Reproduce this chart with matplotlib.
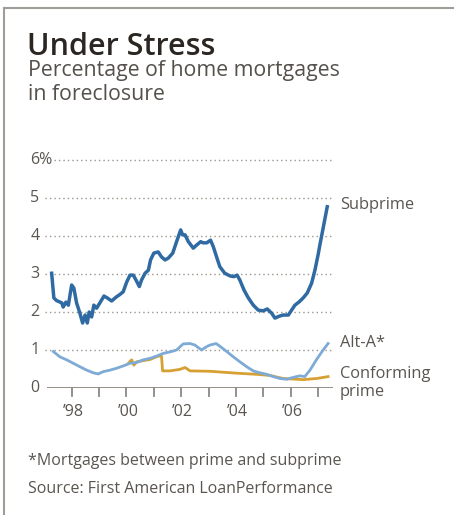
import numpy as np
import matplotlib.pyplot as plt
from matplotlib.lines import Line2D

plt.rcParams['font.family'] = ['Open Sans', 'DejaVu Sans']

# Foreclosure rates (x = fractional year, y = percent)
subprime_t = [1997.27, 1997.35, 1997.45, 1997.64, 1997.69, 1997.79, 1997.88, 1998.00, 1998.08,
              1998.18, 1998.30, 1998.40, 1998.49, 1998.57, 1998.64, 1998.73, 1998.81, 1998.91,
              1999.03, 1999.18, 1999.30, 1999.46, 1999.62, 1999.74, 1999.88, 2000.01, 2000.13,
              2000.25, 2000.35, 2000.47, 2000.55, 2000.68, 2000.80, 2000.88, 2001.00, 2001.16,
              2001.28, 2001.41, 2001.53, 2001.69, 2001.83, 2001.98, 2002.05, 2002.14, 2002.26,
              2002.44, 2002.56, 2002.71, 2002.80, 2002.93, 2003.07, 2003.17, 2003.29, 2003.41,
              2003.59, 2003.78, 2003.92, 2004.04, 2004.14, 2004.29, 2004.45, 2004.63, 2004.81,
              2004.99, 2005.14, 2005.30, 2005.42, 2005.58, 2005.72, 2005.91, 2006.03, 2006.15,
              2006.31, 2006.45, 2006.60, 2006.76, 2006.88, 2007.00, 2007.06, 2007.33]
subprime = [3.02, 2.37, 2.30, 2.24, 2.13, 2.26, 2.18, 2.71, 2.63,
            2.24, 1.97, 1.71, 1.92, 1.71, 2.00, 1.87, 2.18, 2.10,
            2.24, 2.42, 2.37, 2.29, 2.39, 2.45, 2.53, 2.79, 2.97,
            2.97, 2.84, 2.67, 2.84, 3.02, 3.10, 3.37, 3.55, 3.58,
            3.45, 3.37, 3.42, 3.55, 3.85, 4.16, 4.03, 4.03, 3.85,
            3.68, 3.76, 3.85, 3.82, 3.82, 3.89, 3.72, 3.45, 3.19,
            3.02, 2.95, 2.93, 2.97, 2.84, 2.58, 2.37, 2.18, 2.05,
            2.03, 2.08, 1.97, 1.84, 1.89, 1.92, 1.92, 2.05, 2.18,
            2.27, 2.37, 2.50, 2.76, 3.10, 3.52, 3.76, 4.77]

alt_a_t = [1997.33, 1997.57, 1997.82, 1998.06, 1998.30, 1998.55, 1998.79, 1998.97, 1999.15,
           1999.40, 1999.64, 1999.88, 2000.13, 2000.37, 2000.61, 2000.86, 2001.10, 2001.34,
           2001.59, 2001.83, 2002.07, 2002.32, 2002.50, 2002.74, 2002.93, 2003.05, 2003.27,
           2003.41, 2003.66, 2003.90, 2004.14, 2004.39, 2004.63, 2004.87, 2005.12, 2005.36,
           2005.60, 2005.85, 2006.09, 2006.33, 2006.51, 2006.70, 2006.94, 2007.18, 2007.36]
alt_a = [0.96, 0.82, 0.74, 0.65, 0.56, 0.47, 0.40, 0.37, 0.43,
         0.47, 0.52, 0.58, 0.65, 0.67, 0.74, 0.78, 0.84, 0.91,
         0.95, 1.00, 1.16, 1.17, 1.13, 1.00, 1.09, 1.13, 1.17,
         1.10, 0.96, 0.82, 0.69, 0.56, 0.45, 0.40, 0.36, 0.30,
         0.25, 0.23, 0.28, 0.32, 0.30, 0.47, 0.75, 1.00, 1.17]

prime_t = [2000.07, 2000.13, 2000.19, 2000.27, 2000.37, 2000.61, 2000.86, 2001.16, 2001.28,
           2001.32, 2001.59, 2001.95, 2002.14, 2002.32, 2003.05, 2004.02, 2004.75, 2005.24,
           2005.72, 2006.45, 2006.94, 2007.36]
prime = [0.65, 0.70, 0.74, 0.60, 0.69, 0.72, 0.75, 0.84, 0.84,
         0.45, 0.45, 0.49, 0.54, 0.45, 0.44, 0.39, 0.36, 0.33,
         0.25, 0.22, 0.25, 0.30]

year_ticks = [1998, 1999, 2000, 2001, 2002, 2003, 2004, 2005, 2006, 2007]
year_labels = {1998: "\u201998", 2000: "\u201900", 2002: "\u201902", 2004: "\u201904", 2006: "\u201906"}
y_ticks = [0, 1, 2, 3, 4, 5, 6]
y_labels = ["0", "1", "2", "3", "4", "5", "6%"]

W, H = 454, 515
fig = plt.figure(figsize=(W / 100, H / 100), dpi=100)

def px(x, y):
    # pixel position -> figure fraction
    return x / W, 1 - y / H

# plot area, placed by pixels
ax = fig.add_axes([47 / W, 1 - 388 / H, (333 - 47) / W, (388 - 160) / H])
ax.set_xlim(1997.1, 2007.54)
ax.set_ylim(0, 6)
for s in ax.spines.values():
    s.set_visible(False)
ax.set_xticks([])
ax.set_yticks([])

grid_col = '#9a958c'
for v in y_ticks[1:]:
    x0 = 0.025 if v == 6 else -0.008
    ax.plot([x0, 0.997], [v, v], transform=ax.get_yaxis_transform(), color=grid_col,
            lw=1.0, ls=(0, (1, 2.2)), clip_on=False, zorder=1)
ax.axhline(0, color='#8c8780', lw=1.3, zorder=1)
for t in year_ticks:
    ax.plot([t, t], [0, -0.22], color='#8c8780', lw=1.3, clip_on=False)

txt_col = '#5a5550'
for v, lab in zip(y_ticks, y_labels):
    ax.text(-0.058, v, lab, transform=ax.get_yaxis_transform(), ha='left', va='center',
            fontsize=11.5, color=txt_col)
for t, lab in year_labels.items():
    ax.text(t + 0.05, -0.62, lab, ha='center', va='center', fontsize=11.5, color=txt_col)

# the three series
ax.plot(prime_t, prime, color='#d6a033', lw=2.0, zorder=3)
ax.plot(alt_a_t, alt_a, color='#7eaad6', lw=2.0, zorder=4)
ax.plot(subprime_t, subprime, color='#2f6aa3', lw=2.5, zorder=5)

# labels at the line ends
ax.text(340 / W, 1 - 205 / H, "Subprime", transform=fig.transFigure, va='center', fontsize=11.8, color=txt_col)
ax.text(340 / W, 1 - 343 / H, "Alt-A*", transform=fig.transFigure, va='center', fontsize=11.8, color=txt_col)
ax.text(340 / W, 1 - 374 / H, "Conforming", transform=fig.transFigure, va='center', fontsize=11.8, color=txt_col)
ax.text(340 / W, 1 - 392 / H, "prime", transform=fig.transFigure, va='center', fontsize=11.8, color=txt_col)

# titles and notes
fig.text(*px(27, 55), "Under Stress", fontsize=22, fontweight='semibold', color='#2b2622', va='baseline')
fig.text(*px(28, 76), "Percentage of home mortgages", fontsize=15.3, color='#55504a', va='baseline')
fig.text(*px(28, 100), "in foreclosure", fontsize=15.3, color='#55504a', va='baseline')
fig.text(*px(28, 465), "*Mortgages between prime and subprime", fontsize=11.5, color=txt_col, va='baseline')
fig.text(*px(28, 493), "Source: First American LoanPerformance", fontsize=11.5, color=txt_col, va='baseline')

# box edges: top and left only
fig.add_artist(Line2D([4 / W, 1], [1 - 8 / H, 1 - 8 / H], color='#a09c98', lw=1.5))
fig.add_artist(Line2D([4 / W, 4 / W], [0, 1 - 8 / H], color='#a09c98', lw=1.5))

fig.savefig("out.png", dpi=100)
